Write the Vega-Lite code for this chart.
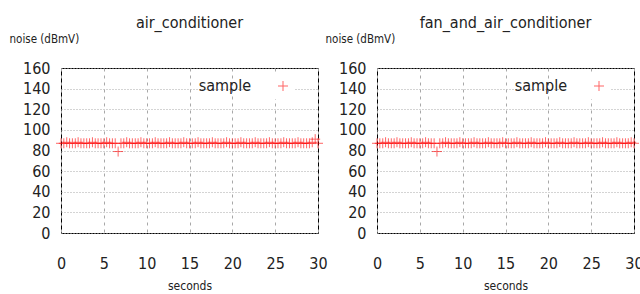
{
  "$schema": "https://vega.github.io/schema/vega-lite/v6.json",
  "padding": {"left": 8, "top": 14, "right": 0, "bottom": 0},
  "background": "white",
  "datasets": {
    "ac": [
      {"t":0,"noise":87},{"t":0.33,"noise":87},{"t":0.67,"noise":88},{"t":1,"noise":87},{"t":1.33,"noise":87},{"t":1.67,"noise":87},{"t":2,"noise":88},{"t":2.33,"noise":87},{"t":2.67,"noise":87},{"t":3,"noise":87},
      {"t":3.33,"noise":87},{"t":3.67,"noise":88},{"t":4,"noise":87},{"t":4.33,"noise":87},{"t":4.67,"noise":87},{"t":5,"noise":87},{"t":5.33,"noise":88},{"t":5.67,"noise":87},{"t":6,"noise":87},{"t":6.33,"noise":87},
      {"t":6.67,"noise":79},{"t":7,"noise":87},{"t":7.33,"noise":87},{"t":7.67,"noise":88},{"t":8,"noise":87},{"t":8.33,"noise":87},{"t":8.67,"noise":87},{"t":9,"noise":87},{"t":9.33,"noise":88},{"t":9.67,"noise":87},
      {"t":10,"noise":87},{"t":10.33,"noise":87},{"t":10.67,"noise":87},{"t":11,"noise":88},{"t":11.33,"noise":87},{"t":11.67,"noise":87},{"t":12,"noise":87},{"t":12.33,"noise":87},{"t":12.67,"noise":88},{"t":13,"noise":87},
      {"t":13.33,"noise":87},{"t":13.67,"noise":87},{"t":14,"noise":87},{"t":14.33,"noise":88},{"t":14.67,"noise":87},{"t":15,"noise":87},{"t":15.33,"noise":87},{"t":15.67,"noise":87},{"t":16,"noise":88},{"t":16.33,"noise":87},
      {"t":16.67,"noise":87},{"t":17,"noise":87},{"t":17.33,"noise":87},{"t":17.67,"noise":88},{"t":18,"noise":87},{"t":18.33,"noise":87},{"t":18.67,"noise":87},{"t":19,"noise":87},{"t":19.33,"noise":88},{"t":19.67,"noise":87},
      {"t":20,"noise":87},{"t":20.33,"noise":87},{"t":20.67,"noise":87},{"t":21,"noise":88},{"t":21.33,"noise":87},{"t":21.67,"noise":87},{"t":22,"noise":87},{"t":22.33,"noise":87},{"t":22.67,"noise":88},{"t":23,"noise":87},
      {"t":23.33,"noise":87},{"t":23.67,"noise":87},{"t":24,"noise":87},{"t":24.33,"noise":88},{"t":24.67,"noise":87},{"t":25,"noise":87},{"t":25.33,"noise":87},{"t":25.67,"noise":87},{"t":26,"noise":88},{"t":26.33,"noise":87},
      {"t":26.67,"noise":87},{"t":27,"noise":87},{"t":27.33,"noise":87},{"t":27.67,"noise":88},{"t":28,"noise":87},{"t":28.33,"noise":87},{"t":28.67,"noise":87},{"t":29,"noise":87},{"t":29.33,"noise":88},{"t":29.67,"noise":91},
      {"t":30,"noise":87}
    ],
    "fac": [
      {"t":0,"noise":87},{"t":0.33,"noise":87},{"t":0.67,"noise":87},{"t":1,"noise":88},{"t":1.33,"noise":87},{"t":1.67,"noise":87},{"t":2,"noise":87},{"t":2.33,"noise":88},{"t":2.67,"noise":87},{"t":3,"noise":87},
      {"t":3.33,"noise":87},{"t":3.67,"noise":87},{"t":4,"noise":88},{"t":4.33,"noise":87},{"t":4.67,"noise":87},{"t":5,"noise":87},{"t":5.33,"noise":87},{"t":5.67,"noise":88},{"t":6,"noise":87},{"t":6.33,"noise":87},
      {"t":6.67,"noise":87},{"t":7,"noise":79},{"t":7.33,"noise":87},{"t":7.67,"noise":87},{"t":8,"noise":88},{"t":8.33,"noise":87},{"t":8.67,"noise":87},{"t":9,"noise":87},{"t":9.33,"noise":87},{"t":9.67,"noise":88},
      {"t":10,"noise":87},{"t":10.33,"noise":87},{"t":10.67,"noise":87},{"t":11,"noise":87},{"t":11.33,"noise":88},{"t":11.67,"noise":87},{"t":12,"noise":87},{"t":12.33,"noise":87},{"t":12.67,"noise":87},{"t":13,"noise":88},
      {"t":13.33,"noise":87},{"t":13.67,"noise":87},{"t":14,"noise":87},{"t":14.33,"noise":87},{"t":14.67,"noise":88},{"t":15,"noise":87},{"t":15.33,"noise":87},{"t":15.67,"noise":87},{"t":16,"noise":87},{"t":16.33,"noise":88},
      {"t":16.67,"noise":87},{"t":17,"noise":87},{"t":17.33,"noise":87},{"t":17.67,"noise":87},{"t":18,"noise":88},{"t":18.33,"noise":87},{"t":18.67,"noise":87},{"t":19,"noise":87},{"t":19.33,"noise":87},{"t":19.67,"noise":88},
      {"t":20,"noise":87},{"t":20.33,"noise":87},{"t":20.67,"noise":87},{"t":21,"noise":87},{"t":21.33,"noise":88},{"t":21.67,"noise":87},{"t":22,"noise":87},{"t":22.33,"noise":87},{"t":22.67,"noise":87},{"t":23,"noise":88},
      {"t":23.33,"noise":87},{"t":23.67,"noise":87},{"t":24,"noise":87},{"t":24.33,"noise":87},{"t":24.67,"noise":88},{"t":25,"noise":87},{"t":25.33,"noise":87},{"t":25.67,"noise":87},{"t":26,"noise":87},{"t":26.33,"noise":88},
      {"t":26.67,"noise":87},{"t":27,"noise":87},{"t":27.33,"noise":87},{"t":27.67,"noise":87},{"t":28,"noise":88},{"t":28.33,"noise":87},{"t":28.67,"noise":87},{"t":29,"noise":87},{"t":29.33,"noise":87},{"t":29.67,"noise":88},
      {"t":30,"noise":87}
    ]
  },
  "hconcat": [
    {
      "data": {"name": "ac"},
      "title": "air_conditioner",
      "width": 257,
      "height": 165,
      "mark": {"type": "point", "shape": "M-1,0L1,0M0,-1L0,1", "filled": false, "strokeWidth": 1, "opacity": 0.6, "size": 100, "clip": false},
      "encoding": {
        "x": {"field": "t", "type": "quantitative", "title": "seconds", "scale": {"domain": [0, 30], "nice": false, "zero": false}, "axis": {"values": [0, 5, 10, 15, 20, 25, 30]}},
        "y": {"field": "noise", "type": "quantitative", "title": "noise (dBmV)", "scale": {"domain": [0, 160], "nice": false}, "axis": {"values": [0, 20, 40, 60, 80, 100, 120, 140, 160]}},
        "color": {"datum": "sample", "scale": {"range": ["#ff0000"]}, "legend": {"title": null}}
      }
    },
    {
      "data": {"name": "fac"},
      "title": "fan_and_air_conditioner",
      "width": 257,
      "height": 165,
      "mark": {"type": "point", "shape": "M-1,0L1,0M0,-1L0,1", "filled": false, "strokeWidth": 1, "opacity": 0.6, "size": 100, "clip": false},
      "encoding": {
        "x": {"field": "t", "type": "quantitative", "title": "seconds", "scale": {"domain": [0, 30], "nice": false, "zero": false}, "axis": {"values": [0, 5, 10, 15, 20, 25, 30]}},
        "y": {"field": "noise", "type": "quantitative", "title": "noise (dBmV)", "scale": {"domain": [0, 160], "nice": false}, "axis": {"values": [0, 20, 40, 60, 80, 100, 120, 140, 160]}},
        "color": {"datum": "sample", "scale": {"range": ["#ff0000"]}, "legend": {"title": null}}
      }
    }
  ],
  "spacing": 59,
  "bounds": "flush",
  "resolve": {"scale": {"color": "independent"}, "legend": {"color": "independent"}},
  "config": {
    "font": "DejaVu Sans Condensed, Liberation Sans, sans-serif",
    "view": {"stroke": "#000000", "strokeWidth": 1},
    "title": {"font": "DejaVu Sans Condensed, Liberation Sans, sans-serif", "fontSize": 16, "fontWeight": "normal", "color": "#222222", "frame": "group", "offset": 2, "anchor": "middle"},
    "axis": {
      "domain": false,
      "ticks": false,
      "grid": true,
      "gridColor": "#a8a8a8",
      "gridWidth": 1,
      "labelFont": "DejaVu Sans Condensed, Liberation Sans, sans-serif",
      "labelFontSize": 16,
      "labelColor": "#222222",
      "titleFont": "DejaVu Sans Condensed, Liberation Sans, sans-serif",
      "titleFontWeight": "normal",
      "titleColor": "#222222"
    },
    "axisX": {
      "gridDash": [3, 4],
      "labelPadding": 22,
      "titleFontSize": 12,
      "titlePadding": 9,
      "labelFlush": false
    },
    "axisY": {
      "gridDash": [1, 2],
      "labelPadding": 11,
      "labelFlush": false,
      "labelOverlap": false,
      "titleFontSize": 11.5,
      "titleAngle": 0,
      "titleAlign": "left",
      "titleBaseline": "middle",
      "titleX": -52,
      "titleY": -29
    },
    "legend": {
      "orient": "none",
      "legendX": 188,
      "legendY": 5,
      "fillColor": "white",
      "padding": 5,
      "labelFont": "DejaVu Sans Condensed, Liberation Sans, sans-serif",
      "labelFontSize": 16,
      "labelColor": "#222222",
      "labelAlign": "right",
      "labelOffset": -40,
      "symbolOffset": 21,
      "symbolType": "M-1,0L1,0M0,-1L0,1",
      "symbolSize": 100,
      "symbolStrokeColor": "#ff0000",
      "symbolStrokeWidth": 1,
      "symbolFillColor": "transparent"
    }
  }
}
